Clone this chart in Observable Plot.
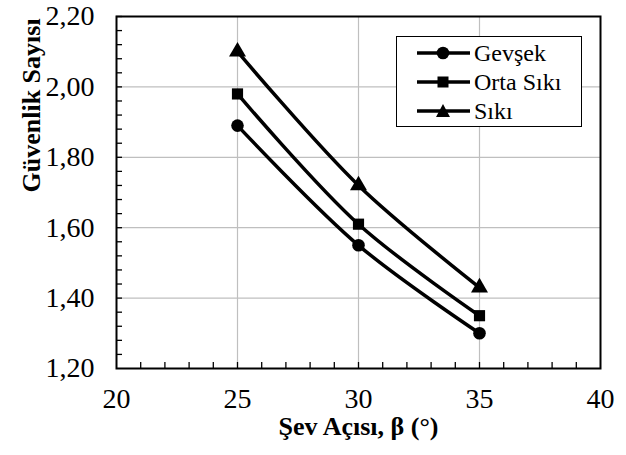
<!DOCTYPE html>
<html>
<head>
<meta charset="utf-8">
<script src="https://cdn.jsdelivr.net/npm/d3@7"></script>
<script src="https://cdn.jsdelivr.net/npm/@observablehq/plot@0.6"></script>
<style>
  #wrap, #wrap * { font-family: "Liberation Serif", "Times New Roman", serif !important; }
</style>
</head>
<body style="margin:0;padding:0;background:#fff">
<div id="wrap" style="position:relative;width:626px;height:455px;"></div>
<script>
const angles = [25, 30, 35];
const seriesNames = ["Gevşek", "Orta Sıkı", "Sıkı"];
const gevsek = [1.89, 1.55, 1.30];
const ortaSiki = [1.98, 1.61, 1.35];
const siki = [2.10, 1.72, 1.43];
const xTicks = [20, 25, 30, 35, 40];
const yTicks = [1.2, 1.4, 1.6, 1.8, 2.0, 2.2];
const xGrid = [25, 30, 35];
const yGrid = [1.4, 1.6, 1.8, 2.0];
const xMinor = d3.range(21, 40, 1);
const yMinor = d3.range(1.24, 2.2, 0.04);
const symbols = ["circle", "square", "triangle"];
const xLabel = "Şev Açısı, β (°)";
const yLabel = "Güvenlik Sayısı";

const seriesValues = [gevsek, ortaSiki, siki];
const data = [];
seriesNames.forEach((s, i) => angles.forEach((a, j) => data.push({series: s, x: a, y: seriesValues[i][j]})));

const W = 626, H = 455, mL = 116, mR = 26, mT = 16, mB = 87;
const tickPx = 6;
const tickY = tickPx * (2.2 - 1.2) / (H - mT - mB);
const tickX = tickPx * (40 - 20) / (W - mL - mR);
const FF = "Liberation Serif";

const fmt = d => d.toFixed(2).replace(".", ",");

const chart = Plot.plot({
  width: W, height: H,
  marginLeft: mL, marginRight: mR, marginTop: mT, marginBottom: mB,
  style: "background: #fff; overflow: visible; color: #000;",
  x: {domain: [20, 40]},
  y: {domain: [1.2, 2.2]},
  symbol: {domain: seriesNames, range: symbols},
  marks: [
    Plot.gridX(xGrid, {stroke: "#bfbfbf", strokeOpacity: 1, strokeWidth: 1.2}),
    Plot.gridY(yGrid, {stroke: "#bfbfbf", strokeOpacity: 1, strokeWidth: 1.2}),
    Plot.ruleX(xMinor, {x: d => d, y1: 1.2, y2: 1.2 + tickY, stroke: "#000", strokeWidth: 1.3}),
    Plot.ruleY(yMinor, {y: d => d, x1: 20, x2: 20 + tickX, stroke: "#000", strokeWidth: 1.3}),
    Plot.axisX({ticks: xTicks, tickSize: 0, tickPadding: 20, fontSize: 28, fontFamily: FF, fill: "#000", label: null, tickFormat: d => d}),
    Plot.axisY({ticks: yTicks, tickSize: 0, tickPadding: 22, fontSize: 28, fontFamily: FF, fill: "#000", label: null, tickFormat: fmt}),
    Plot.line(data, {x: "x", y: "y", z: "series", curve: "catmull-rom", stroke: "#000", strokeWidth: 3.5}),
    Plot.dot(data, {x: "x", y: "y", symbol: "series", fill: "#000", r: 6.3}),
    Plot.frame({stroke: "#000", strokeWidth: 2}),
    Plot.text([xLabel], {frameAnchor: "bottom", dy: 66, fontSize: 26, fontFamily: FF, fontWeight: "bold", fill: "#000"}),
    Plot.text([yLabel], {frameAnchor: "left", dx: -85, rotate: -90, fontSize: 26, fontFamily: FF, fontWeight: "bold", fill: "#000"})
  ]
});
chart.querySelectorAll("text").forEach(t => {
  t.setAttribute("font-family", FF);
  t.style.setProperty("font-family", "'Liberation Serif'", "important");
});
document.getElementById("wrap").appendChild(chart);

// legend
const legend = document.createElement("div");
legend.setAttribute("style", "position:absolute;left:396px;top:36px;width:184px;height:89px;border:1.5px solid #000;background:#fff;");
const shapes = {
  circle: '<circle cx="26" cy="8" r="6.3" fill="#000"/>',
  square: '<rect x="20.5" y="2.5" width="11" height="11" fill="#000"/>',
  triangle: '<path d="M26,1 L33,14 L19,14 Z" fill="#000"/>'
};
seriesNames.forEach((s, i) => {
  const row = document.createElement("div");
  row.setAttribute("style", `position:absolute;left:20px;top:${1 + i * 29}px;height:29px;display:flex;align-items:center;`);
  row.innerHTML = `<svg width="53" height="16" style="display:block"><line x1="0" y1="8" x2="53" y2="8" stroke="#000" stroke-width="3.5"/>${shapes[symbols[i]]}</svg><span style="font-size:24px;line-height:1;margin-left:4px;color:#000">${s}</span>`;
  legend.appendChild(row);
});
document.getElementById("wrap").appendChild(legend);
</script>
</body>
</html>
